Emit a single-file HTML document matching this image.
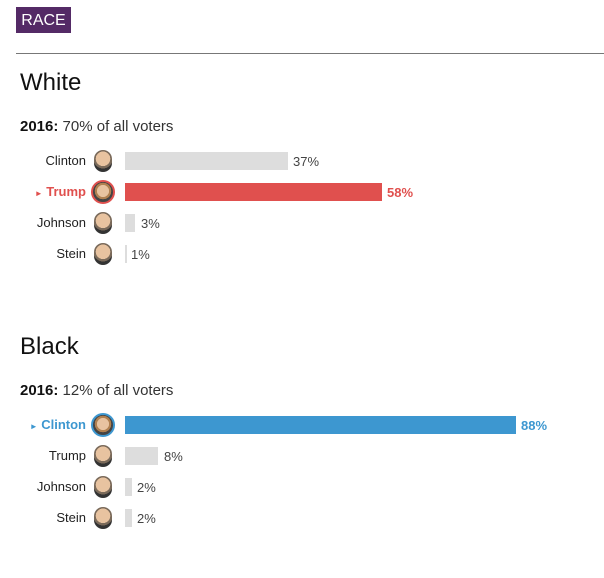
<!DOCTYPE html>
<html><head><style>
body{margin:0;width:604px;height:578px;background:#fff;font-family:"Liberation Sans",sans-serif;position:relative;overflow:hidden}
.a{position:absolute;white-space:nowrap}
.tag{left:16px;top:7px;width:55px;height:26px;background:#542a66;color:#fff;font-size:16px;line-height:27px;text-align:center}
.hr{left:16px;top:53px;width:588px;height:1px;background:#777}
.h{font-size:24px;color:#111}
.s{font-size:15px;color:#333}
.n{font-size:13px;color:#222;width:86px;text-align:right;line-height:18px}
.ic{width:18px;height:22px;border-radius:9px;background:radial-gradient(circle at 50% 40%,#e8c3a0 0 45%,#7a6a5a 46% 60%,#333 61%)}
.ring{width:20px;height:20px;border:2px solid;border-radius:50%;background:radial-gradient(circle at 50% 45%,#e8c3a0 0 40%,#b08050 41% 55%,#444 56%)}
.b{height:18px;background:#ddd}
.p{font-size:13px;color:#444;line-height:18px}
</style></head><body>
<div class="a tag">RACE</div>
<div class="a hr"></div>

<div class="a h" style="left:20px;top:69px">White</div>
<div class="a s" style="left:20px;top:118px"><b style="color:#111">2016:</b> 70% of all voters</div>
<div class="a n" style="left:0;top:152px">Clinton</div>
<div class="a ic" style="left:94px;top:150px"></div>
<div class="a b" style="left:125px;top:152px;width:163px"></div>
<div class="a p" style="left:293px;top:153px">37%</div>

<div class="a n" style="left:0;top:183px;color:#e0504e;font-weight:bold"><span style="font-size:8px">►</span> Trump</div>
<div class="a ring" style="left:91px;top:180px;border-color:#e0504e"></div>
<div class="a b" style="left:125px;top:183px;width:257px;background:#e0504e"></div>
<div class="a p" style="left:387px;top:184px;color:#e0504e;font-weight:bold">58%</div>

<div class="a n" style="left:0;top:214px">Johnson</div>
<div class="a ic" style="left:94px;top:212px"></div>
<div class="a b" style="left:125px;top:214px;width:10px"></div>
<div class="a p" style="left:141px;top:215px">3%</div>

<div class="a n" style="left:0;top:245px">Stein</div>
<div class="a ic" style="left:94px;top:243px"></div>
<div class="a b" style="left:125px;top:245px;width:2px"></div>
<div class="a p" style="left:131px;top:246px">1%</div>

<div class="a h" style="left:20px;top:333px">Black</div>
<div class="a s" style="left:20px;top:382px"><b style="color:#111">2016:</b> 12% of all voters</div>
<div class="a n" style="left:0;top:416px;color:#3d97d0;font-weight:bold"><span style="font-size:8px">►</span> Clinton</div>
<div class="a ring" style="left:91px;top:413px;border-color:#3d97d0"></div>
<div class="a b" style="left:125px;top:416px;width:391px;background:#3d97d0"></div>
<div class="a p" style="left:521px;top:417px;color:#3d97d0;font-weight:bold">88%</div>

<div class="a n" style="left:0;top:447px">Trump</div>
<div class="a ic" style="left:94px;top:445px"></div>
<div class="a b" style="left:125px;top:447px;width:33px"></div>
<div class="a p" style="left:164px;top:448px">8%</div>

<div class="a n" style="left:0;top:478px">Johnson</div>
<div class="a ic" style="left:94px;top:476px"></div>
<div class="a b" style="left:125px;top:478px;width:7px"></div>
<div class="a p" style="left:137px;top:479px">2%</div>

<div class="a n" style="left:0;top:509px">Stein</div>
<div class="a ic" style="left:94px;top:507px"></div>
<div class="a b" style="left:125px;top:509px;width:7px"></div>
<div class="a p" style="left:137px;top:510px">2%</div>
</body></html>
